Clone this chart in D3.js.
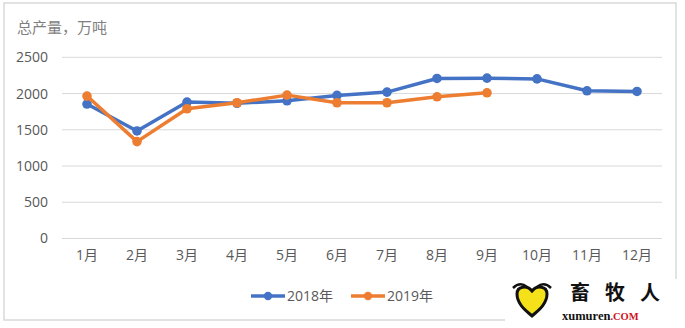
<!DOCTYPE html>
<html><head><meta charset="utf-8">
<script src="https://cdn.jsdelivr.net/npm/d3@7"></script>
<style>html,body{margin:0;padding:0;background:#fff;}svg{display:block;font-family:"Open Sans","Noto Sans CJK SC",sans-serif;}</style>
</head><body>
<svg id="c" width="685" height="328"></svg>
<script>
const months = ["1月","2月","3月","4月","5月","6月","7月","8月","9月","10月","11月","12月"];
const series2018 = [1855,1484,1882,1866,1900,1974,2020,2208,2212,2202,2038,2029];
const series2019 = [1965,1337,1790,1873,1978,1873,1873,1955,2010];
const yTicks = [0,500,1000,1500,2000,2500];
const seriesNames = ["2018年","2019年"];
const colors = ["#4472C4","#ED7D31"];
const FONT = "'Open Sans','Noto Sans CJK SC',sans-serif";

const svg = d3.select("#c");
svg.append("rect").attr("x",4).attr("y",3).attr("width",672).attr("height",317)
  .attr("fill","#fff").attr("stroke","#d9d9d9").attr("stroke-width",1.5);

const x = d3.scaleBand().domain(months).range([62,662]);
const y = d3.scaleLinear().domain([0,2500]).range([238.5,57.3]);

svg.append("g").selectAll("line").data(yTicks).join("line")
  .attr("x1",62).attr("x2",662).attr("y1",d=>y(d)).attr("y2",d=>y(d))
  .attr("stroke","#d9d9d9").attr("stroke-width",1);

const yAxis = d3.axisLeft(y).tickValues(yTicks).tickSize(0).tickPadding(0).tickFormat(d3.format("d"));
svg.append("g").attr("transform","translate(48,0)").call(yAxis)
  .call(a=>a.select(".domain").remove())
  .selectAll("text").attr("fill","#595959").style("font-size","14px").style("font-family",FONT);

const xAxis = d3.axisBottom(x).tickSize(0).tickPadding(0);
svg.append("g").attr("transform","translate(0,250)").call(xAxis)
  .call(a=>a.select(".domain").remove())
  .selectAll("text").attr("fill","#595959").style("font-size","14px").style("font-family",FONT);

svg.append("text").attr("x",17).attr("y",33).text("总产量，万吨")
  .attr("fill","#7f7f7f").style("font-size","15px").style("font-family","'Noto Sans CJK SC',sans-serif");

const line = d3.line().x((d,i)=>x(months[i])+x.bandwidth()/2).y(d=>y(d));
[series2018, series2019].forEach((s,k)=>{
  svg.append("path").attr("d",line(s)).attr("fill","none")
    .attr("stroke",colors[k]).attr("stroke-width",3.5).attr("stroke-linejoin","round");
  svg.selectAll(null).data(s).join("circle")
    .attr("cx",(d,i)=>x(months[i])+x.bandwidth()/2).attr("cy",d=>y(d))
    .attr("r",4.8).attr("fill",colors[k]);
});

// legend
const leg = svg.append("g");
seriesNames.forEach((n,k)=>{
  const lx = 251 + k*100, ly = 296;
  leg.append("line").attr("x1",lx).attr("x2",lx+34).attr("y1",ly).attr("y2",ly)
    .attr("stroke",colors[k]).attr("stroke-width",3.5);
  leg.append("circle").attr("cx",lx+17).attr("cy",ly).attr("r",4.2).attr("fill",colors[k]);
  leg.append("text").attr("x",lx+36).attr("y",ly+5).text(n)
    .attr("fill","#595959").style("font-size","14px").style("font-family",FONT);
});

// watermark
const wm = svg.append("g");
wm.append("rect").attr("x",505).attr("y",279).attr("width",180).attr("height",49).attr("fill","#fff");
wm.append("path").attr("d","M517,294 C517,286 527,285 532,291 C537,285 547,286 547,294 C547,305 536,312 532,316 C528,312 517,305 517,294 Z")
  .attr("fill","#f4e11a").attr("stroke","#111").attr("stroke-width",3);
wm.append("path").attr("d","M513,288 Q520,281 527,287").attr("fill","none").attr("stroke","#111").attr("stroke-width",2.5);
wm.append("path").attr("d","M537,287 Q544,281 551,288").attr("fill","none").attr("stroke","#111").attr("stroke-width",2.5);
wm.append("text").attr("x",570).attr("y",300).text("畜牧人").attr("fill","#111")
  .style("font-size","20px").style("font-weight","bold").style("letter-spacing","15px")
  .style("font-family","'Noto Sans CJK SC',sans-serif");
wm.append("text").attr("x",562).attr("y",320).attr("fill","#111")
  .style("font-size","12.5px").style("font-family","'Liberation Serif',serif").style("font-weight","bold")
  .text("xumuren").append("tspan").attr("fill","#d0121b").style("font-size","10.5px").text(".COM");
</script>
</body></html>
